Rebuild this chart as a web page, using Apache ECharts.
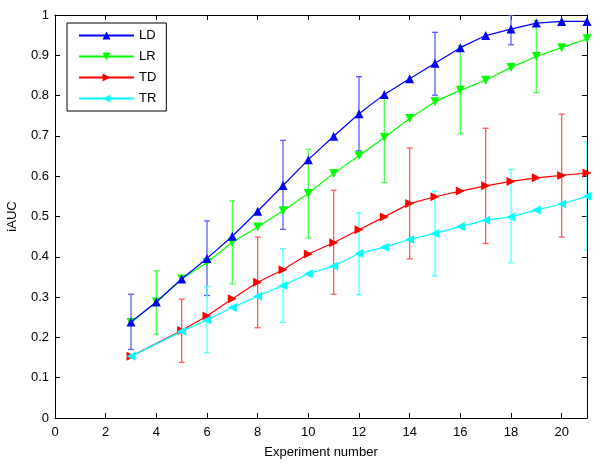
<!DOCTYPE html>
<html>
<head>
<meta charset="utf-8">
<script src="https://cdn.jsdelivr.net/npm/echarts@6/dist/echarts.min.js"></script>
<style>html,body{margin:0;padding:0;background:#fff}#c{width:600px;height:464px}</style>
</head>
<body>
<div id="c"></div>
<script>
// ---- data ----
var experiments = [3,4,5,6,7,8,9,10,11,12,13,14,15,16,17,18,19,20,21];
var seriesNames = ['LD','LR','TD','TR'];
var LD = [0.238,0.288,0.345,0.396,0.451,0.513,0.577,0.641,0.699,0.755,0.803,0.842,0.880,0.919,0.949,0.965,0.980,0.984,0.984];
var LR = [0.237,0.288,0.345,0.386,0.436,0.474,0.514,0.557,0.607,0.651,0.696,0.743,0.785,0.813,0.838,0.870,0.897,0.919,0.941];
var TD = [0.153,null,0.217,0.253,0.296,0.337,0.368,0.407,0.435,0.467,0.499,0.532,0.549,0.563,0.576,0.587,0.596,0.602,0.608];
var TR = [0.153,null,0.215,0.243,0.274,0.302,0.329,0.358,0.377,0.408,0.424,0.443,0.458,0.475,0.491,0.499,0.516,0.531,0.550];
// error bars: [experiment, low, high]
var LD_err = [[3,0.170,0.307],[6,0.304,0.489],[9,0.468,0.689],[12,0.663,0.847],[15,0.801,0.957],[18,0.926,1.0]];
var LR_err = [[4,0.208,0.365],[7,0.333,0.539],[10,0.447,0.667],[13,0.584,0.797],[16,0.705,0.924],[19,0.807,0.986]];
var TD_err = [[5,0.138,0.295],[8,0.224,0.449],[11,0.307,0.565],[14,0.395,0.670],[17,0.433,0.719],[20,0.449,0.754]];
var TR_err = [[6,0.162,0.326],[9,0.237,0.420],[12,0.306,0.509],[15,0.353,0.563],[18,0.385,0.617],[21,0.417,0.684]];
var xTicks = {min:0, max:21, interval:2};
var yTicks = {min:0, max:1, interval:0.1};

// ---- chart ----
var colors = ['#0000ff','#00ff00','#ff0000','#00ffff'];
var errColors = ['#5c5cff','#4cff4c','#ff5c5c','#4cffff'];
var rotations = [0,180,-90,90];
var zOrder = [5,4,3,4];
var values = [LD, LR, TD, TR];
var errs = [LD_err, LR_err, TD_err, TR_err];

function pairs(arr){ return experiments.map(function(x,i){ return [x, arr[i]]; }); }

function errRenderer(col){
  return function(params, api){
    var x = api.value(0), lo = api.value(1), hi = api.value(2);
    var a = api.coord([x, lo]), b = api.coord([x, hi]);
    var hw = 3;
    var st = {stroke: col, lineWidth: 1.3};
    return {type:'group', children:[
      {type:'line', shape:{x1:a[0],y1:a[1],x2:b[0],y2:b[1]}, style:st},
      {type:'line', shape:{x1:a[0]-hw,y1:a[1],x2:a[0]+hw,y2:a[1]}, style:st},
      {type:'line', shape:{x1:b[0]-hw,y1:b[1],x2:b[0]+hw,y2:b[1]}, style:st}
    ]};
  };
}

var series = [];
for (var i=0;i<4;i++){
  series.push({
    type:'custom', name: seriesNames[i]+'_err', renderItem: errRenderer(errColors[i]),
    data: errs[i], z: 1, silent: true, clip: true
  });
}
for (var j=0;j<4;j++){
  series.push({
    type:'line', name: seriesNames[j], data: pairs(values[j]), connectNulls: true,
    symbol:'triangle', symbolSize: 9, symbolRotate: rotations[j], showSymbol:true,
    lineStyle:{color: colors[j], width: 1.2}, itemStyle:{color: colors[j]},
    z: zOrder[j], animation:false
  });
}

var font = 'Liberation Sans, Arial, Helvetica, sans-serif';
var axisCommon = {
  axisLine:{show:true, onZero:false, lineStyle:{color:'#000', width:1}},
  axisTick:{show:true, inside:true, length:5, lineStyle:{color:'#000'}},
  splitLine:{show:false}
};

var option = {
  animation:false,
  backgroundColor:'#fff',
  textStyle:{fontFamily: font},
  grid:{left:55, right:13, top:15, bottom:46, containLabel:false, outerBoundsMode:'none'},
  legend:{
    data: seriesNames, orient:'vertical', left:67, top:23,
    itemWidth:55, itemHeight:10, itemGap:8,
    padding:[6,10,6,11], borderColor:'#000', borderWidth:1, backgroundColor:'#fff',
    textStyle:{fontSize:13, color:'#000', fontFamily:font},
    symbolRotate:'inherit', z: 10
  },
  xAxis:[
    Object.assign({type:'value', min:xTicks.min, max:xTicks.max, interval:xTicks.interval, position:'bottom',
      name:'Experiment number', nameLocation:'middle', nameGap:28,
      nameTextStyle:{fontSize:13, color:'#000'},
      axisLabel:{fontSize:13, color:'#000', margin:8, showMaxLabel:false}}, axisCommon),
    Object.assign({type:'value', min:xTicks.min, max:xTicks.max, interval:xTicks.interval, position:'top',
      axisLabel:{show:false}}, axisCommon)
  ],
  yAxis:[
    Object.assign({type:'value', min:yTicks.min, max:yTicks.max, interval:yTicks.interval, position:'left',
      name:'iAUC', nameLocation:'middle', nameGap:36, nameRotate:90,
      nameTextStyle:{fontSize:13, color:'#000'},
      axisLabel:{fontSize:13, color:'#000', margin:6}}, axisCommon),
    Object.assign({type:'value', min:yTicks.min, max:yTicks.max, interval:yTicks.interval, position:'right',
      axisLabel:{show:false}}, axisCommon)
  ],
  series: series
};
var chart = echarts.init(document.getElementById('c'), null, {renderer:'canvas'});
chart.setOption(option);
</script>
</body>
</html>
